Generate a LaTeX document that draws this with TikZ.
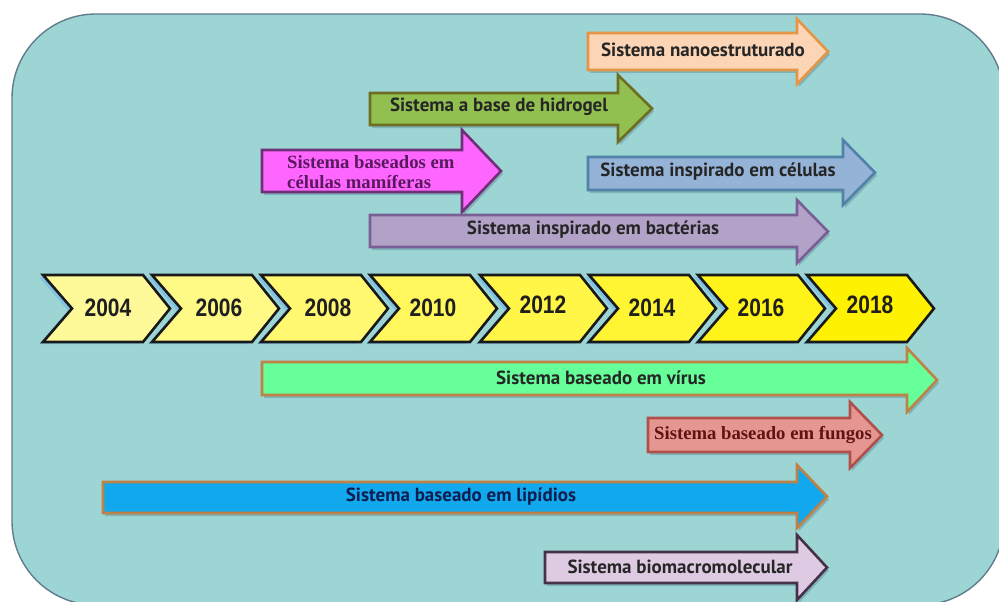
\documentclass[tikz,border=0pt]{standalone}
\usepackage{fontspec}
\setmainfont{PT Sans}
\newfontfamily\yearfont{Liberation Sans}
\newfontfamily\serfont{Liberation Serif}
\definecolor{bgteal}{RGB}{157,213,213}
\definecolor{bgedge}{RGB}{95,125,140}
\definecolor{shadowc}{RGB}{128,178,185}
\definecolor{chevsh}{RGB}{130,195,225}
\definecolor{nanoF}{RGB}{251,213,181}\definecolor{nanoD}{RGB}{228,150,70}
\definecolor{hidF}{RGB}{146,192,80}\definecolor{hidD}{RGB}{110,110,35}
\definecolor{mamF}{RGB}{255,102,255}\definecolor{mamD}{RGB}{112,48,120}\definecolor{mamT}{RGB}{90,25,95}
\definecolor{celF}{RGB}{149,179,215}\definecolor{celD}{RGB}{80,130,170}
\definecolor{bacF}{RGB}{179,162,199}\definecolor{bacD}{RGB}{120,95,150}
\definecolor{virF}{RGB}{102,255,153}\definecolor{virD}{RGB}{190,130,70}
\definecolor{funF}{RGB}{230,150,145}\definecolor{funD}{RGB}{175,80,75}\definecolor{funT}{RGB}{95,20,20}
\definecolor{lipF}{RGB}{18,168,238}\definecolor{lipD}{RGB}{190,130,70}\definecolor{lipT}{RGB}{15,30,80}
\definecolor{bioF}{RGB}{222,202,226}\definecolor{bioD}{RGB}{70,50,70}
\tikzset{
  barrowstyle/.style={line width=2.6pt, line join=miter},
  artext/.style={font=\bfseries\fontsize{19}{22}\selectfont, inner sep=0pt, text=black!85},
  yeartext/.style={font=\yearfont\bfseries\fontsize{21}{24}\selectfont, inner sep=0pt, text=black!88},
  sertext/.style={font=\serfont\bfseries\fontsize{18.7}{20}\selectfont, inner sep=0pt, align=left},
  chevbox/.style={line width=2.6pt, draw=black!90, line join=miter},
}
\newcommand\yr[1]{\scalebox{1}[1.2]{#1}}
% #1 style, #2 x left, #3 head base x, #4 tip x, #5 body top, #6 body bottom, #7 head top, #8 head bottom
\newcommand\blockarr[8]{%
  \fill[shadowc] (#2+2,#5+3) -- (#3+2,#5+3) -- (#3+2,#7+3) -- (#4+2,{(#7+#8)/2+3}) -- (#3+2,#8+3) -- (#3+2,#6+3) -- (#2+2,#6+3) -- cycle;
  \draw[barrowstyle,#1] (#2,#5) -- (#3,#5) -- (#3,#7) -- (#4,{(#7+#8)/2}) -- (#3,#8) -- (#3,#6) -- (#2,#6) -- cycle;}
\newcommand\chev[2]{% #1 left x, #2 colour mix
  \fill[chevsh] (#1-4,277) -- (#1+96,277) -- (#1+123,310.5) -- (#1+96,344) -- (#1-4,344) -- (#1+25,310.5) -- cycle;
  \draw[chevbox, fill=yellow!#2!white] (#1,275) -- (#1+100,275) -- (#1+127,308.5) -- (#1+100,342) -- (#1,342) -- (#1+29,308.5) -- cycle;}
\begin{document}
\begin{tikzpicture}[x=1pt,y=-1pt]
\useasboundingbox (0,0) rectangle (999,602);
\fill[white] (0,0) rectangle (999,602);
\begin{scope}
\clip (0,0) rectangle (999,602);
\draw[fill=bgteal, draw=bgedge, line width=1.4pt, rounded corners=84pt] (12,14) rectangle (1004,605);
\end{scope}
% timeline chevrons
\chev{43}{40}
\chev{152}{48}
\chev{261}{56}
\chev{370}{64}
\chev{480}{72}
\chev{589}{80}
\chev{698}{90}
\chev{807}{100}
\node[yeartext] (y2004) at (108,308) {\yr{2004}};
\node[yeartext] (y2006) at (219,308) {\yr{2006}};
\node[yeartext] (y2008) at (328,308) {\yr{2008}};
\node[yeartext] (y2010) at (433,308) {\yr{2010}};
\node[yeartext] (y2012) at (543,305) {\yr{2012}};
\node[yeartext] (y2014) at (652,308) {\yr{2014}};
\node[yeartext] (y2016) at (761,308) {\yr{2016}};
\node[yeartext] (y2018) at (870,305) {\yr{2018}};
% arrows above
\blockarr{fill=nanoF, draw=nanoD}{588}{797}{828}{33}{70}{19}{84}
\node[artext] (nano) at (703,50) {Sistema nanoestruturado};
\blockarr{fill=hidF, draw=hidD}{370}{618}{652}{93}{125}{75}{142}
\node[artext] (hidro) at (499,107) {Sistema a base de hidrogel};
\blockarr{fill=mamF, draw=mamD}{262}{462}{501}{150}{192}{130}{212}
\node[sertext, text=mamT, anchor=west] (mam) at (287,172) {Sistema baseados em\\células mamíferas};
\blockarr{fill=celF, draw=celD}{588}{843}{875}{157}{190}{140}{205}
\node[artext] (cel) at (718,172) {Sistema inspirado em células};
\blockarr{fill=bacF, draw=bacD}{370}{797}{828}{215}{247}{200}{263}
\node[artext] (bac) at (593,230) {Sistema inspirado em bactérias};
% arrows below
\blockarr{fill=virF, draw=virD}{262}{907}{937}{362}{395}{348}{412}
\node[artext] (vir) at (601,378) {Sistema baseado em vírus};
\blockarr{fill=funF, draw=funD}{648}{850}{882}{418}{452}{402}{468}
\node[sertext, text=funT] (fun) at (763,435) {Sistema baseado em fungos};
\blockarr{fill=lipF, draw=lipD}{103}{797}{827}{482}{513}{465}{528}
\node[artext, text=lipT] (lip) at (461,497) {Sistema baseado em lipídios};
\blockarr{fill=bioF, draw=bioD}{545}{797}{827}{552}{583}{535}{600}
\node[artext] (bio) at (680,567) {Sistema biomacromolecular};
\end{tikzpicture}
\end{document}
